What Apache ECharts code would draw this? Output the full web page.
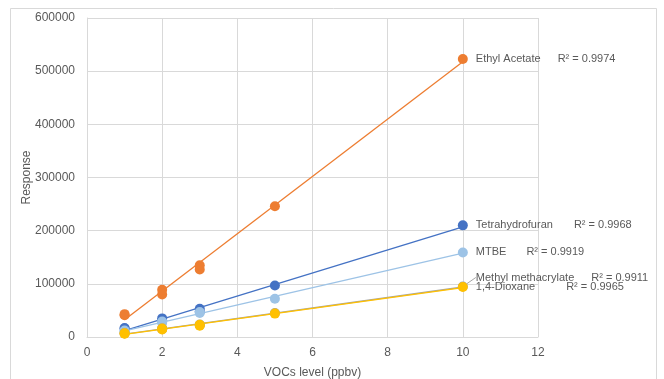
<!DOCTYPE html>
<html>
<head>
<meta charset="utf-8">
<script src="https://cdn.jsdelivr.net/npm/echarts@6/dist/echarts.min.js"></script>
<style>
  html, body { margin: 0; padding: 0; background: #fff; }
  #chart { width: 664px; height: 379px; }
</style>
</head>
<body>
<div id="chart"></div>
<script>
// VOC calibration data (replicates at 1, 2, 3 ppbv)
const levels = [1, 1, 2, 2, 3, 3, 5, 10];
const ethylAcetate = [41000, 43000, 80000, 89000, 127000, 135000, 246000, 523000];
const tetrahydrofuran = [16000, 17000, 31000, 35000, 48000, 53000, 97000, 210000];
const mtbe = [11000, 12000, 27000, 29000, 45000, 47000, 72000, 159000];
const methylMethacrylate = [6500, 7500, 14500, 16500, 22000, 23500, 45000, 95000];
const dioxane = [6000, 7000, 14000, 16000, 21000, 23000, 44000, 94000];

const seriesNames = ["Ethyl Acetate", "Tetrahydrofuran", "MTBE", "Methyl methacrylate", "1,4-Dioxane"];
const r2Labels = ["R² = 0.9974", "R² = 0.9968", "R² = 0.9919", "R² = 0.9911", "R² = 0.9965"];
const xTicks = [0, 2, 4, 6, 8, 10, 12];
const yTicks = [0, 100000, 200000, 300000, 400000, 500000, 600000];

const colors = ["#ED7D31", "#4472C4", "#9DC3E6", "#A5A5A5", "#FFC000"];
const gaps = [17, 21, 20, 17, 31];
const allValues = [ethylAcetate, tetrahydrofuran, mtbe, methylMethacrylate, dioxane];

const FONT = "'Liberation Sans', Arial, sans-serif";
const TEXT = "#595959";

// least squares fit for the trendlines
const fit = (xs, ys) => {
  const n = xs.length;
  const mx = xs.reduce((a, b) => a + b, 0) / n;
  const my = ys.reduce((a, b) => a + b, 0) / n;
  let sxy = 0, sxx = 0;
  xs.forEach((x, i) => { sxy += (x - mx) * (ys[i] - my); sxx += (x - mx) * (x - mx); });
  const slope = sxy / sxx;
  return x => my + slope * (x - mx);
};

const chart = echarts.init(document.getElementById("chart"));

const series = [];
allValues.forEach((vals, i) => {
  const f = fit(levels, vals);
  const x0 = Math.min(...levels), x1 = Math.max(...levels);
  series.push({
    name: seriesNames[i] + " trend",
    type: "line",
    data: [[x0, f(x0)], [x1, f(x1)]],
    showSymbol: false,
    silent: true,
    z: 2,
    lineStyle: { color: colors[i], width: 1.3 }
  });
});
allValues.forEach((vals, i) => {
  const last = vals.length - 1;
  const isMethyl = i === 3;
  series.push({
    name: seriesNames[i],
    type: "scatter",
    data: vals.map((v, j) => {
      if (j !== last) return [levels[j], v];
      return {
        value: [levels[j], v],
        label: {
          show: true,
          position: "right",
          distance: 8,
          formatter: `{n|${seriesNames[i]}}{r|${r2Labels[i]}}`,
          rich: {
            n: { fontFamily: FONT, fontSize: 11, color: TEXT },
            r: { fontFamily: FONT, fontSize: 11, color: TEXT, padding: [0, 0, 0, gaps[i]] }
          }
        },
        labelLine: { show: isMethyl, lineStyle: { color: "#A5A5A5", width: 1 } }
      };
    }),
    symbolSize: 10,
    z: 3,
    itemStyle: { color: colors[i], opacity: 1 },
    label: { show: false },
    labelLayout: isMethyl ? { dy: -9 } : undefined
  });
});

chart.setOption({
  backgroundColor: "#fff",
  animation: false,
  textStyle: { fontFamily: FONT },
  graphic: [{
    type: "rect",
    shape: { x: 10.5, y: 8.5, width: 646, height: 390 },
    style: { fill: "none", stroke: "#d9d9d9", lineWidth: 1 },
    silent: true
  }],
  grid: { left: 87, right: 126, top: 18, bottom: 42, outerBoundsMode: "none" },
  xAxis: {
    type: "value",
    min: xTicks[0],
    max: xTicks[xTicks.length - 1],
    interval: 2,
    name: "VOCs level (ppbv)",
    nameLocation: "middle",
    nameGap: 30,
    nameMoveOverlap: false,
    nameTextStyle: { fontFamily: FONT, fontSize: 12, color: TEXT },
    axisLine: { show: true, lineStyle: { color: "#d9d9d9" } },
    axisTick: { show: false },
    axisLabel: { fontFamily: FONT, fontSize: 12, color: TEXT, margin: 10 },
    splitLine: { show: true, lineStyle: { color: "#d9d9d9" } }
  },
  yAxis: {
    type: "value",
    min: yTicks[0],
    max: yTicks[yTicks.length - 1],
    interval: 100000,
    name: "Response",
    nameLocation: "middle",
    nameGap: 54,
    nameMoveOverlap: false,
    nameTextStyle: { fontFamily: FONT, fontSize: 12, color: TEXT },
    axisLine: { show: true, lineStyle: { color: "#d9d9d9" } },
    axisTick: { show: false },
    axisLabel: { fontFamily: FONT, fontSize: 12, color: TEXT, margin: 12, formatter: v => String(v) },
    splitLine: { show: true, lineStyle: { color: "#d9d9d9" } }
  },
  series
});
</script>
</body>
</html>
